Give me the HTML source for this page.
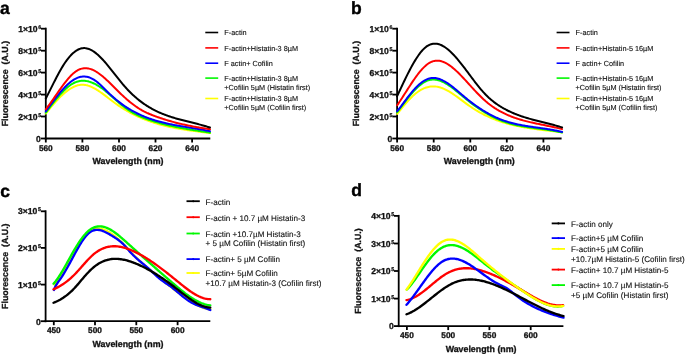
<!DOCTYPE html>
<html><head><meta charset="utf-8"><style>
html,body{margin:0;padding:0;background:#fff;}
body{width:685px;height:355px;overflow:hidden;}
svg{display:block;will-change:transform;}
#w{width:685px;height:355px;background:#fff;}
text{font-family:"Liberation Sans",sans-serif;text-rendering:geometricPrecision;}
.tk{font-size:8.6px;font-weight:bold;fill:#111;stroke:#111;stroke-width:0.3px;}
.sup{font-size:5.3px;stroke-width:0.25px;}
.xt{font-size:8.3px;font-weight:bold;fill:#111;stroke:#111;stroke-width:0.3px;text-anchor:middle;}
.ti{font-size:8.85px;font-weight:bold;fill:#111;stroke:#111;stroke-width:0.3px;text-anchor:middle;}
.pl{font-size:17.5px;font-weight:bold;fill:#000;stroke:#000;stroke-width:0.4px;}
.lg{font-size:7.3px;fill:#111;stroke:#111;stroke-width:0.12px;}
.lg2{font-size:8.1px;fill:#111;stroke:#111;stroke-width:0.12px;}
.ax{stroke:#000;stroke-width:1.8;fill:none;}
</style></head><body>
<div id="w"><svg width="685" height="355" viewBox="0 0 685 355">

<path d="M45.8,27.7 V139.5" class="ax"/>
<path d="M44.8,138.5 H210.3" class="ax"/>
<path d="M41.0,138.5 H45.8" class="ax"/>
<path d="M41.0,116.5 H45.8" class="ax"/>
<path d="M41.0,94.6 H45.8" class="ax"/>
<path d="M41.0,72.6 H45.8" class="ax"/>
<path d="M41.0,50.7 H45.8" class="ax"/>
<path d="M41.0,28.7 H45.8" class="ax"/>
<path d="M45.8,138.5 V142.5" class="ax"/>
<path d="M82.4,138.5 V142.5" class="ax"/>
<path d="M119.0,138.5 V142.5" class="ax"/>
<path d="M155.5,138.5 V142.5" class="ax"/>
<path d="M192.1,138.5 V142.5" class="ax"/>
<text x="40.9" y="141.8" text-anchor="end" class="tk">0</text>
<text x="37.6" y="119.6" class="tk" text-anchor="end">2×10</text><text x="38.3" y="116.6" class="tk sup">5</text>
<text x="37.6" y="97.7" class="tk" text-anchor="end">4×10</text><text x="38.3" y="94.7" class="tk sup">5</text>
<text x="37.6" y="75.7" class="tk" text-anchor="end">6×10</text><text x="38.3" y="72.7" class="tk sup">5</text>
<text x="37.6" y="53.8" class="tk" text-anchor="end">8×10</text><text x="38.3" y="50.8" class="tk sup">5</text>
<text x="37.6" y="31.8" class="tk" text-anchor="end">1×10</text><text x="38.3" y="28.8" class="tk sup">6</text>
<text x="45.8" y="151" class="xt">560</text>
<text x="82.4" y="151" class="xt">580</text>
<text x="119.0" y="151" class="xt">600</text>
<text x="155.5" y="151" class="xt">620</text>
<text x="192.1" y="151" class="xt">640</text>
<text x="128.0" y="163.5" class="ti">Wavelength (nm)</text>
<text transform="translate(7.9,83.6) rotate(-90)" class="ti">Fluorescence&#160; (A.U.)</text>
<text x="0.0" y="13.7" class="pl">a</text>
<path d="M45.80,113.58L46.80,112.32L47.80,111.08L48.80,109.84L49.80,108.62L50.81,107.41L51.81,106.22L52.81,105.04L53.81,103.89L54.81,102.75L55.81,101.63L56.81,100.53L57.81,99.46L58.82,98.42L59.82,97.40L60.82,96.41L61.82,95.45L62.82,94.52L63.82,93.62L64.82,92.76L65.82,91.93L66.83,91.14L67.83,90.39L68.83,89.68L69.83,89.01L70.83,88.39L71.83,87.81L72.83,87.27L73.83,86.78L74.84,86.34L75.84,85.96L76.84,85.62L77.84,85.33L78.84,85.11L79.84,84.93L80.84,84.82L81.84,84.76L82.85,84.77L83.85,84.83L84.85,84.94L85.85,85.11L86.85,85.33L87.85,85.59L88.85,85.91L89.85,86.26L90.85,86.66L91.86,87.10L92.86,87.58L93.86,88.09L94.86,88.63L95.86,89.20L96.86,89.81L97.86,90.43L98.86,91.09L99.87,91.76L100.87,92.46L101.87,93.17L102.87,93.89L103.87,94.63L104.87,95.38L105.87,96.14L106.87,96.91L107.88,97.68L108.88,98.45L109.88,99.22L110.88,99.99L111.88,100.75L112.88,101.51L113.88,102.26L114.88,103.00L115.89,103.72L116.89,104.43L117.89,105.13L118.89,105.81L119.89,106.49L120.89,107.15L121.89,107.79L122.89,108.43L123.90,109.05L124.90,109.66L125.90,110.25L126.90,110.84L127.90,111.41L128.90,111.98L129.90,112.53L130.90,113.07L131.90,113.59L132.91,114.11L133.91,114.62L134.91,115.12L135.91,115.60L136.91,116.08L137.91,116.54L138.91,117.00L139.91,117.44L140.92,117.88L141.92,118.30L142.92,118.72L143.92,119.13L144.92,119.53L145.92,119.92L146.92,120.30L147.92,120.67L148.93,121.03L149.93,121.39L150.93,121.73L151.93,122.07L152.93,122.40L153.93,122.72L154.93,123.04L155.93,123.35L156.94,123.65L157.94,123.94L158.94,124.23L159.94,124.51L160.94,124.78L161.94,125.04L162.94,125.30L163.94,125.56L164.95,125.80L165.95,126.05L166.95,126.28L167.95,126.51L168.95,126.73L169.95,126.95L170.95,127.17L171.95,127.38L172.95,127.58L173.96,127.78L174.96,127.97L175.96,128.16L176.96,128.35L177.96,128.53L178.96,128.71L179.96,128.88L180.96,129.05L181.97,129.22L182.97,129.38L183.97,129.54L184.97,129.69L185.97,129.85L186.97,130.00L187.97,130.15L188.97,130.29L189.98,130.44L190.98,130.58L191.98,130.71L192.98,130.85L193.98,130.99L194.98,131.12L195.98,131.25L196.98,131.38L197.99,131.51L198.99,131.64L199.99,131.77L200.99,131.90L201.99,132.02L202.99,132.15L203.99,132.28L204.99,132.40L206.00,132.53L207.00,132.65L208.00,132.78L209.00,132.91L210.00,133.04" stroke="#ffff00" stroke-width="2.0" fill="none" stroke-linejoin="round" stroke-linecap="round"/>
<path d="M45.80,112.62L46.80,111.29L47.80,109.96L48.80,108.64L49.80,107.32L50.81,106.01L51.81,104.71L52.81,103.42L53.81,102.15L54.81,100.89L55.81,99.65L56.81,98.44L57.81,97.24L58.82,96.07L59.82,94.93L60.82,93.82L61.82,92.73L62.82,91.69L63.82,90.67L64.82,89.70L65.82,88.77L66.83,87.87L67.83,87.03L68.83,86.22L69.83,85.47L70.83,84.77L71.83,84.12L72.83,83.53L73.83,82.99L74.84,82.51L75.84,82.09L76.84,81.73L77.84,81.43L78.84,81.19L79.84,81.00L80.84,80.87L81.84,80.79L82.85,80.76L83.85,80.78L84.85,80.85L85.85,80.96L86.85,81.13L87.85,81.34L88.85,81.59L89.85,81.89L90.85,82.22L91.86,82.60L92.86,83.02L93.86,83.47L94.86,83.96L95.86,84.49L96.86,85.05L97.86,85.64L98.86,86.26L99.87,86.91L100.87,87.59L101.87,88.30L102.87,89.04L103.87,89.80L104.87,90.58L105.87,91.39L106.87,92.21L107.88,93.05L108.88,93.90L109.88,94.77L110.88,95.65L111.88,96.53L112.88,97.42L113.88,98.31L114.88,99.20L115.89,100.09L116.89,100.97L117.89,101.85L118.89,102.71L119.89,103.57L120.89,104.41L121.89,105.23L122.89,106.04L123.90,106.82L124.90,107.58L125.90,108.31L126.90,109.02L127.90,109.71L128.90,110.37L129.90,111.00L130.90,111.62L131.90,112.21L132.91,112.79L133.91,113.34L134.91,113.88L135.91,114.40L136.91,114.90L137.91,115.38L138.91,115.85L139.91,116.30L140.92,116.74L141.92,117.16L142.92,117.57L143.92,117.97L144.92,118.36L145.92,118.73L146.92,119.10L147.92,119.46L148.93,119.81L149.93,120.15L150.93,120.48L151.93,120.81L152.93,121.13L153.93,121.44L154.93,121.75L155.93,122.05L156.94,122.34L157.94,122.63L158.94,122.91L159.94,123.19L160.94,123.46L161.94,123.73L162.94,123.99L163.94,124.24L164.95,124.49L165.95,124.74L166.95,124.98L167.95,125.22L168.95,125.45L169.95,125.67L170.95,125.90L171.95,126.12L172.95,126.33L173.96,126.54L174.96,126.75L175.96,126.95L176.96,127.15L177.96,127.35L178.96,127.54L179.96,127.73L180.96,127.92L181.97,128.10L182.97,128.28L183.97,128.46L184.97,128.64L185.97,128.81L186.97,128.99L187.97,129.16L188.97,129.33L189.98,129.49L190.98,129.66L191.98,129.82L192.98,129.98L193.98,130.15L194.98,130.31L195.98,130.47L196.98,130.62L197.99,130.78L198.99,130.94L199.99,131.10L200.99,131.25L201.99,131.41L202.99,131.57L203.99,131.72L204.99,131.88L206.00,132.04L207.00,132.20L208.00,132.36L209.00,132.52L210.00,132.68" stroke="#00f800" stroke-width="2.0" fill="none" stroke-linejoin="round" stroke-linecap="round"/>
<path d="M45.80,111.42L46.80,110.03L47.80,108.64L48.80,107.26L49.80,105.88L50.81,104.51L51.81,103.15L52.81,101.80L53.81,100.46L54.81,99.15L55.81,97.85L56.81,96.56L57.81,95.30L58.82,94.07L59.82,92.86L60.82,91.68L61.82,90.52L62.82,89.40L63.82,88.31L64.82,87.26L65.82,86.24L66.83,85.27L67.83,84.33L68.83,83.44L69.83,82.60L70.83,81.80L71.83,81.05L72.83,80.35L73.83,79.70L74.84,79.11L75.84,78.57L76.84,78.10L77.84,77.68L78.84,77.33L79.84,77.04L80.84,76.82L81.84,76.66L82.85,76.56L83.85,76.53L84.85,76.56L85.85,76.65L86.85,76.81L87.85,77.03L88.85,77.31L89.85,77.66L90.85,78.07L91.86,78.54L92.86,79.07L93.86,79.66L94.86,80.32L95.86,81.04L96.86,81.80L97.86,82.62L98.86,83.48L99.87,84.37L100.87,85.30L101.87,86.25L102.87,87.23L103.87,88.21L104.87,89.21L105.87,90.21L106.87,91.20L107.88,92.19L108.88,93.17L109.88,94.12L110.88,95.06L111.88,95.98L112.88,96.87L113.88,97.75L114.88,98.61L115.89,99.45L116.89,100.28L117.89,101.08L118.89,101.87L119.89,102.63L120.89,103.39L121.89,104.12L122.89,104.84L123.90,105.54L124.90,106.22L125.90,106.89L126.90,107.54L127.90,108.18L128.90,108.80L129.90,109.40L130.90,109.99L131.90,110.57L132.91,111.13L133.91,111.68L134.91,112.21L135.91,112.73L136.91,113.24L137.91,113.73L138.91,114.21L139.91,114.68L140.92,115.14L141.92,115.58L142.92,116.01L143.92,116.43L144.92,116.84L145.92,117.24L146.92,117.63L147.92,118.01L148.93,118.37L149.93,118.73L150.93,119.07L151.93,119.41L152.93,119.74L153.93,120.06L154.93,120.37L155.93,120.67L156.94,120.96L157.94,121.25L158.94,121.52L159.94,121.79L160.94,122.06L161.94,122.31L162.94,122.56L163.94,122.80L164.95,123.04L165.95,123.27L166.95,123.49L167.95,123.71L168.95,123.92L169.95,124.13L170.95,124.34L171.95,124.54L172.95,124.73L173.96,124.92L174.96,125.11L175.96,125.29L176.96,125.48L177.96,125.65L178.96,125.83L179.96,126.00L180.96,126.17L181.97,126.34L182.97,126.51L183.97,126.67L184.97,126.84L185.97,127.00L186.97,127.16L187.97,127.33L188.97,127.49L189.98,127.65L190.98,127.82L191.98,127.98L192.98,128.14L193.98,128.31L194.98,128.48L195.98,128.64L196.98,128.81L197.99,128.99L198.99,129.16L199.99,129.34L200.99,129.52L201.99,129.70L202.99,129.89L203.99,130.08L204.99,130.28L206.00,130.48L207.00,130.68L208.00,130.89L209.00,131.10L210.00,131.32" stroke="#0000ff" stroke-width="2.0" fill="none" stroke-linejoin="round" stroke-linecap="round"/>
<path d="M45.80,109.28L46.80,108.00L47.80,106.69L48.80,105.34L49.80,103.97L50.81,102.58L51.81,101.17L52.81,99.75L53.81,98.31L54.81,96.87L55.81,95.42L56.81,93.97L57.81,92.53L58.82,91.09L59.82,89.67L60.82,88.26L61.82,86.87L62.82,85.50L63.82,84.16L64.82,82.84L65.82,81.56L66.83,80.32L67.83,79.12L68.83,77.96L69.83,76.86L70.83,75.80L71.83,74.80L72.83,73.86L73.83,72.98L74.84,72.17L75.84,71.43L76.84,70.77L77.84,70.18L78.84,69.67L79.84,69.24L80.84,68.89L81.84,68.61L82.85,68.41L83.85,68.27L84.85,68.21L85.85,68.21L86.85,68.28L87.85,68.41L88.85,68.60L89.85,68.85L90.85,69.16L91.86,69.52L92.86,69.94L93.86,70.42L94.86,70.94L95.86,71.50L96.86,72.11L97.86,72.77L98.86,73.46L99.87,74.19L100.87,74.96L101.87,75.75L102.87,76.58L103.87,77.44L104.87,78.32L105.87,79.22L106.87,80.14L107.88,81.09L108.88,82.04L109.88,83.02L110.88,84.00L111.88,84.99L112.88,85.99L113.88,86.99L114.88,87.99L115.89,88.99L116.89,89.99L117.89,90.98L118.89,91.97L119.89,92.95L120.89,93.91L121.89,94.86L122.89,95.80L123.90,96.73L124.90,97.63L125.90,98.53L126.90,99.41L127.90,100.27L128.90,101.11L129.90,101.94L130.90,102.75L131.90,103.54L132.91,104.31L133.91,105.06L134.91,105.79L135.91,106.50L136.91,107.19L137.91,107.85L138.91,108.49L139.91,109.11L140.92,109.70L141.92,110.27L142.92,110.82L143.92,111.35L144.92,111.85L145.92,112.34L146.92,112.82L147.92,113.27L148.93,113.71L149.93,114.14L150.93,114.55L151.93,114.96L152.93,115.35L153.93,115.73L154.93,116.11L155.93,116.48L156.94,116.85L157.94,117.20L158.94,117.55L159.94,117.90L160.94,118.24L161.94,118.57L162.94,118.90L163.94,119.22L164.95,119.54L165.95,119.85L166.95,120.16L167.95,120.46L168.95,120.75L169.95,121.04L170.95,121.32L171.95,121.60L172.95,121.88L173.96,122.14L174.96,122.41L175.96,122.67L176.96,122.92L177.96,123.17L178.96,123.42L179.96,123.66L180.96,123.90L181.97,124.13L182.97,124.36L183.97,124.58L184.97,124.80L185.97,125.02L186.97,125.23L187.97,125.44L188.97,125.64L189.98,125.84L190.98,126.04L191.98,126.24L192.98,126.43L193.98,126.61L194.98,126.80L195.98,126.98L196.98,127.16L197.99,127.33L198.99,127.50L199.99,127.67L200.99,127.84L201.99,128.00L202.99,128.16L203.99,128.32L204.99,128.48L206.00,128.63L207.00,128.78L208.00,128.93L209.00,129.08L210.00,129.23" stroke="#ff0000" stroke-width="2.0" fill="none" stroke-linejoin="round" stroke-linecap="round"/>
<path d="M45.80,98.56L46.80,96.60L47.80,94.62L48.80,92.63L49.80,90.63L50.81,88.63L51.81,86.63L52.81,84.63L53.81,82.65L54.81,80.68L55.81,78.74L56.81,76.82L57.81,74.93L58.82,73.08L59.82,71.27L60.82,69.51L61.82,67.80L62.82,66.14L63.82,64.54L64.82,63.01L65.82,61.55L66.83,60.15L67.83,58.83L68.83,57.58L69.83,56.41L70.83,55.31L71.83,54.28L72.83,53.33L73.83,52.46L74.84,51.66L75.84,50.94L76.84,50.30L77.84,49.74L78.84,49.26L79.84,48.87L80.84,48.55L81.84,48.32L82.85,48.17L83.85,48.10L84.85,48.12L85.85,48.23L86.85,48.41L87.85,48.66L88.85,48.99L89.85,49.39L90.85,49.86L91.86,50.40L92.86,50.99L93.86,51.65L94.86,52.36L95.86,53.13L96.86,53.95L97.86,54.81L98.86,55.73L99.87,56.68L100.87,57.68L101.87,58.72L102.87,59.79L103.87,60.89L104.87,62.02L105.87,63.18L106.87,64.36L107.88,65.57L108.88,66.79L109.88,68.03L110.88,69.28L111.88,70.55L112.88,71.82L113.88,73.09L114.88,74.37L115.89,75.65L116.89,76.92L117.89,78.19L118.89,79.45L119.89,80.70L120.89,81.93L121.89,83.15L122.89,84.34L123.90,85.52L124.90,86.67L125.90,87.79L126.90,88.89L127.90,89.96L128.90,91.00L129.90,92.02L130.90,93.01L131.90,93.98L132.91,94.92L133.91,95.84L134.91,96.74L135.91,97.61L136.91,98.46L137.91,99.29L138.91,100.10L139.91,100.88L140.92,101.65L141.92,102.39L142.92,103.12L143.92,103.82L144.92,104.50L145.92,105.17L146.92,105.82L147.92,106.45L148.93,107.06L149.93,107.65L150.93,108.23L151.93,108.79L152.93,109.34L153.93,109.87L154.93,110.38L155.93,110.88L156.94,111.37L157.94,111.84L158.94,112.30L159.94,112.74L160.94,113.17L161.94,113.59L162.94,114.00L163.94,114.40L164.95,114.78L165.95,115.16L166.95,115.52L167.95,115.88L168.95,116.23L169.95,116.56L170.95,116.89L171.95,117.21L172.95,117.53L173.96,117.83L174.96,118.13L175.96,118.42L176.96,118.71L177.96,118.99L178.96,119.27L179.96,119.54L180.96,119.81L181.97,120.07L182.97,120.33L183.97,120.59L184.97,120.84L185.97,121.09L186.97,121.34L187.97,121.59L188.97,121.84L189.98,122.09L190.98,122.33L191.98,122.58L192.98,122.83L193.98,123.08L194.98,123.33L195.98,123.58L196.98,123.84L197.99,124.09L198.99,124.35L199.99,124.62L200.99,124.89L201.99,125.16L202.99,125.44L203.99,125.72L204.99,126.01L206.00,126.31L207.00,126.61L208.00,126.92L209.00,127.23L210.00,127.56" stroke="#000" stroke-width="2.0" fill="none" stroke-linejoin="round" stroke-linecap="round"/>
<path d="M205.3,32.5 H218.2" stroke="#000" stroke-width="1.6"/>
<text x="224.3" y="35.3" class="lg">F-actin</text>
<path d="M205.3,47.9 H218.2" stroke="#ff0000" stroke-width="1.6"/>
<text x="224.3" y="50.7" class="lg">F-actin+Histatin-3 8µM</text>
<path d="M205.3,63.2 H218.2" stroke="#0000ff" stroke-width="1.6"/>
<text x="224.3" y="66.0" class="lg">F actin+ Cofilin</text>
<path d="M205.3,78.1 H218.2" stroke="#00f800" stroke-width="1.6"/>
<text x="224.3" y="80.9" class="lg">F-actin+Histatin-3 8µM</text>
<text x="224.3" y="90.0" class="lg">+Cofilin 5µM (Histatin first)</text>
<path d="M205.3,98.5 H218.2" stroke="#ffff00" stroke-width="1.6"/>
<text x="224.3" y="101.3" class="lg">F-actin+Histatin-3 8µM</text>
<text x="224.3" y="110.4" class="lg">+Cofilin 5µM (Cofilin first)</text>
<path d="M397.1,27.7 V139.5" class="ax"/>
<path d="M396.1,138.5 H561.6" class="ax"/>
<path d="M392.3,138.5 H397.1" class="ax"/>
<path d="M392.3,116.5 H397.1" class="ax"/>
<path d="M392.3,94.6 H397.1" class="ax"/>
<path d="M392.3,72.6 H397.1" class="ax"/>
<path d="M392.3,50.7 H397.1" class="ax"/>
<path d="M392.3,28.7 H397.1" class="ax"/>
<path d="M397.1,138.5 V142.5" class="ax"/>
<path d="M433.7,138.5 V142.5" class="ax"/>
<path d="M470.3,138.5 V142.5" class="ax"/>
<path d="M506.8,138.5 V142.5" class="ax"/>
<path d="M543.4,138.5 V142.5" class="ax"/>
<text x="392.2" y="141.8" text-anchor="end" class="tk">0</text>
<text x="388.9" y="119.6" class="tk" text-anchor="end">2×10</text><text x="389.6" y="116.6" class="tk sup">5</text>
<text x="388.9" y="97.7" class="tk" text-anchor="end">4×10</text><text x="389.6" y="94.7" class="tk sup">5</text>
<text x="388.9" y="75.7" class="tk" text-anchor="end">6×10</text><text x="389.6" y="72.7" class="tk sup">5</text>
<text x="388.9" y="53.8" class="tk" text-anchor="end">8×10</text><text x="389.6" y="50.8" class="tk sup">5</text>
<text x="388.9" y="31.8" class="tk" text-anchor="end">1×10</text><text x="389.6" y="28.8" class="tk sup">6</text>
<text x="397.1" y="151" class="xt">560</text>
<text x="433.7" y="151" class="xt">580</text>
<text x="470.3" y="151" class="xt">600</text>
<text x="506.8" y="151" class="xt">620</text>
<text x="543.4" y="151" class="xt">640</text>
<text x="479.3" y="163.5" class="ti">Wavelength (nm)</text>
<text transform="translate(359.2,83.6) rotate(-90)" class="ti">Fluorescence&#160; (A.U.)</text>
<text x="351.0" y="13.7" class="pl">b</text>
<path d="M397.20,114.00L398.21,112.69L399.21,111.39L400.22,110.11L401.22,108.84L402.23,107.60L403.23,106.37L404.24,105.17L405.24,103.99L406.25,102.83L407.25,101.71L408.26,100.61L409.27,99.54L410.27,98.50L411.28,97.50L412.28,96.53L413.29,95.60L414.29,94.70L415.30,93.85L416.30,93.04L417.31,92.27L418.32,91.54L419.32,90.86L420.33,90.23L421.33,89.65L422.34,89.11L423.34,88.63L424.35,88.19L425.35,87.81L426.36,87.47L427.36,87.18L428.37,86.93L429.38,86.73L430.38,86.58L431.39,86.47L432.39,86.41L433.40,86.40L434.40,86.43L435.41,86.50L436.41,86.62L437.42,86.78L438.43,86.98L439.43,87.22L440.44,87.51L441.44,87.84L442.45,88.21L443.45,88.61L444.46,89.05L445.46,89.53L446.47,90.03L447.47,90.57L448.48,91.13L449.49,91.72L450.49,92.34L451.50,92.97L452.50,93.63L453.51,94.31L454.51,95.00L455.52,95.70L456.52,96.42L457.53,97.15L458.53,97.89L459.54,98.64L460.55,99.39L461.55,100.14L462.56,100.89L463.56,101.65L464.57,102.40L465.57,103.14L466.58,103.88L467.58,104.61L468.59,105.33L469.60,106.04L470.60,106.73L471.61,107.41L472.61,108.08L473.62,108.73L474.62,109.36L475.63,109.98L476.63,110.59L477.64,111.19L478.64,111.77L479.65,112.34L480.66,112.90L481.66,113.44L482.67,113.97L483.67,114.49L484.68,114.99L485.68,115.49L486.69,115.97L487.69,116.44L488.70,116.90L489.70,117.35L490.71,117.79L491.72,118.22L492.72,118.63L493.73,119.04L494.73,119.43L495.74,119.82L496.74,120.19L497.75,120.56L498.75,120.91L499.76,121.26L500.77,121.60L501.77,121.93L502.78,122.25L503.78,122.56L504.79,122.86L505.79,123.16L506.80,123.44L507.80,123.72L508.81,123.99L509.81,124.26L510.82,124.51L511.83,124.76L512.83,125.01L513.84,125.24L514.84,125.47L515.85,125.70L516.85,125.91L517.86,126.12L518.86,126.33L519.87,126.53L520.88,126.72L521.88,126.91L522.89,127.10L523.89,127.28L524.90,127.45L525.90,127.62L526.91,127.79L527.91,127.95L528.92,128.11L529.92,128.26L530.93,128.41L531.94,128.56L532.94,128.71L533.95,128.85L534.95,128.99L535.96,129.12L536.96,129.26L537.97,129.39L538.97,129.52L539.98,129.65L540.98,129.77L541.99,129.90L543.00,130.02L544.00,130.14L545.01,130.27L546.01,130.39L547.02,130.51L548.02,130.63L549.03,130.75L550.03,130.87L551.04,130.99L552.05,131.11L553.05,131.23L554.06,131.35L555.06,131.48L556.07,131.60L557.07,131.73L558.08,131.86L559.08,131.99L560.09,132.12L561.09,132.25L562.10,132.39" stroke="#ffff00" stroke-width="2.0" fill="none" stroke-linejoin="round" stroke-linecap="round"/>
<path d="M397.20,112.22L398.21,110.90L399.21,109.57L400.22,108.24L401.22,106.89L402.23,105.55L403.23,104.21L404.24,102.88L405.24,101.55L406.25,100.23L407.25,98.93L408.26,97.65L409.27,96.39L410.27,95.15L411.28,93.95L412.28,92.77L413.29,91.63L414.29,90.53L415.30,89.46L416.30,88.45L417.31,87.48L418.32,86.56L419.32,85.68L420.33,84.86L421.33,84.09L422.34,83.38L423.34,82.72L424.35,82.12L425.35,81.58L426.36,81.10L427.36,80.68L428.37,80.32L429.38,80.03L430.38,79.80L431.39,79.64L432.39,79.55L433.40,79.52L434.40,79.55L435.41,79.64L436.41,79.79L437.42,79.99L438.43,80.24L439.43,80.54L440.44,80.90L441.44,81.29L442.45,81.73L443.45,82.21L444.46,82.73L445.46,83.29L446.47,83.88L447.47,84.50L448.48,85.16L449.49,85.84L450.49,86.54L451.50,87.27L452.50,88.02L453.51,88.79L454.51,89.58L455.52,90.37L456.52,91.19L457.53,92.01L458.53,92.84L459.54,93.67L460.55,94.51L461.55,95.34L462.56,96.18L463.56,97.01L464.57,97.84L465.57,98.66L466.58,99.47L467.58,100.27L468.59,101.06L469.60,101.84L470.60,102.61L471.61,103.37L472.61,104.12L473.62,104.87L474.62,105.60L475.63,106.32L476.63,107.03L477.64,107.73L478.64,108.42L479.65,109.09L480.66,109.76L481.66,110.41L482.67,111.05L483.67,111.68L484.68,112.30L485.68,112.91L486.69,113.50L487.69,114.08L488.70,114.65L489.70,115.21L490.71,115.75L491.72,116.28L492.72,116.80L493.73,117.30L494.73,117.79L495.74,118.26L496.74,118.72L497.75,119.17L498.75,119.60L499.76,120.02L500.77,120.42L501.77,120.81L502.78,121.19L503.78,121.55L504.79,121.89L505.79,122.23L506.80,122.55L507.80,122.86L508.81,123.16L509.81,123.45L510.82,123.73L511.83,124.00L512.83,124.25L513.84,124.50L514.84,124.74L515.85,124.97L516.85,125.19L517.86,125.40L518.86,125.61L519.87,125.81L520.88,126.00L521.88,126.18L522.89,126.36L523.89,126.53L524.90,126.70L525.90,126.86L526.91,127.02L527.91,127.17L528.92,127.32L529.92,127.47L530.93,127.61L531.94,127.75L532.94,127.88L533.95,128.02L534.95,128.15L535.96,128.29L536.96,128.42L537.97,128.55L538.97,128.68L539.98,128.81L540.98,128.95L541.99,129.08L543.00,129.22L544.00,129.35L545.01,129.49L546.01,129.63L547.02,129.78L548.02,129.93L549.03,130.08L550.03,130.24L551.04,130.40L552.05,130.56L553.05,130.74L554.06,130.91L555.06,131.10L556.07,131.29L557.07,131.48L558.08,131.69L559.08,131.90L560.09,132.12L561.09,132.35L562.10,132.58" stroke="#00f800" stroke-width="2.0" fill="none" stroke-linejoin="round" stroke-linecap="round"/>
<path d="M397.20,111.24L398.21,109.95L399.21,108.64L400.22,107.32L401.22,105.98L402.23,104.64L403.23,103.30L404.24,101.95L405.24,100.61L406.25,99.28L407.25,97.95L408.26,96.65L409.27,95.36L410.27,94.09L411.28,92.86L412.28,91.65L413.29,90.47L414.29,89.34L415.30,88.24L416.30,87.19L417.31,86.19L418.32,85.23L419.32,84.33L420.33,83.48L421.33,82.68L422.34,81.94L423.34,81.26L424.35,80.64L425.35,80.07L426.36,79.57L427.36,79.14L428.37,78.77L429.38,78.46L430.38,78.23L431.39,78.07L432.39,77.97L433.40,77.94L434.40,77.98L435.41,78.08L436.41,78.23L437.42,78.45L438.43,78.71L439.43,79.03L440.44,79.40L441.44,79.82L442.45,80.28L443.45,80.79L444.46,81.33L445.46,81.92L446.47,82.53L447.47,83.18L448.48,83.86L449.49,84.57L450.49,85.31L451.50,86.07L452.50,86.85L453.51,87.65L454.51,88.46L455.52,89.29L456.52,90.13L457.53,90.98L458.53,91.83L459.54,92.69L460.55,93.55L461.55,94.41L462.56,95.27L463.56,96.12L464.57,96.97L465.57,97.80L466.58,98.63L467.58,99.44L468.59,100.24L469.60,101.03L470.60,101.81L471.61,102.58L472.61,103.33L473.62,104.08L474.62,104.81L475.63,105.53L476.63,106.24L477.64,106.94L478.64,107.62L479.65,108.29L480.66,108.95L481.66,109.60L482.67,110.24L483.67,110.86L484.68,111.47L485.68,112.07L486.69,112.66L487.69,113.23L488.70,113.79L489.70,114.33L490.71,114.87L491.72,115.39L492.72,115.89L493.73,116.39L494.73,116.87L495.74,117.33L496.74,117.79L497.75,118.22L498.75,118.65L499.76,119.06L500.77,119.46L501.77,119.84L502.78,120.21L503.78,120.57L504.79,120.91L505.79,121.24L506.80,121.57L507.80,121.88L508.81,122.17L509.81,122.46L510.82,122.74L511.83,123.01L512.83,123.27L513.84,123.51L514.84,123.76L515.85,123.99L516.85,124.21L517.86,124.43L518.86,124.64L519.87,124.84L520.88,125.03L521.88,125.22L522.89,125.41L523.89,125.58L524.90,125.76L525.90,125.92L526.91,126.09L527.91,126.25L528.92,126.40L529.92,126.56L530.93,126.71L531.94,126.85L532.94,127.00L533.95,127.14L534.95,127.28L535.96,127.43L536.96,127.57L537.97,127.71L538.97,127.85L539.98,127.99L540.98,128.13L541.99,128.27L543.00,128.42L544.00,128.56L545.01,128.71L546.01,128.86L547.02,129.01L548.02,129.17L549.03,129.33L550.03,129.50L551.04,129.67L552.05,129.84L553.05,130.02L554.06,130.21L555.06,130.40L556.07,130.60L557.07,130.80L558.08,131.02L559.08,131.24L560.09,131.46L561.09,131.70L562.10,131.94" stroke="#0000ff" stroke-width="2.0" fill="none" stroke-linejoin="round" stroke-linecap="round"/>
<path d="M397.20,105.30L398.21,103.82L399.21,102.32L400.22,100.80L401.22,99.26L402.23,97.71L403.23,96.14L404.24,94.57L405.24,93.00L406.25,91.42L407.25,89.85L408.26,88.28L409.27,86.72L410.27,85.18L411.28,83.65L412.28,82.14L413.29,80.66L414.29,79.20L415.30,77.77L416.30,76.38L417.31,75.02L418.32,73.71L419.32,72.44L420.33,71.21L421.33,70.04L422.34,68.92L423.34,67.86L424.35,66.86L425.35,65.92L426.36,65.05L427.36,64.25L428.37,63.53L429.38,62.89L430.38,62.33L431.39,61.85L432.39,61.45L433.40,61.14L434.40,60.90L435.41,60.75L436.41,60.66L437.42,60.65L438.43,60.71L439.43,60.84L440.44,61.03L441.44,61.28L442.45,61.60L443.45,61.97L444.46,62.40L445.46,62.89L446.47,63.42L447.47,64.01L448.48,64.64L449.49,65.32L450.49,66.04L451.50,66.80L452.50,67.60L453.51,68.43L454.51,69.30L455.52,70.20L456.52,71.13L457.53,72.09L458.53,73.07L459.54,74.07L460.55,75.10L461.55,76.14L462.56,77.19L463.56,78.26L464.57,79.34L465.57,80.43L466.58,81.53L467.58,82.63L468.59,83.73L469.60,84.84L470.60,85.94L471.61,87.05L472.61,88.15L473.62,89.24L474.62,90.32L475.63,91.40L476.63,92.47L477.64,93.52L478.64,94.55L479.65,95.57L480.66,96.58L481.66,97.56L482.67,98.52L483.67,99.45L484.68,100.36L485.68,101.25L486.69,102.10L487.69,102.93L488.70,103.74L489.70,104.52L490.71,105.27L491.72,106.01L492.72,106.71L493.73,107.40L494.73,108.07L495.74,108.71L496.74,109.34L497.75,109.94L498.75,110.53L499.76,111.10L500.77,111.65L501.77,112.18L502.78,112.70L503.78,113.20L504.79,113.69L505.79,114.16L506.80,114.62L507.80,115.07L508.81,115.50L509.81,115.91L510.82,116.32L511.83,116.71L512.83,117.09L513.84,117.46L514.84,117.82L515.85,118.17L516.85,118.51L517.86,118.84L518.86,119.15L519.87,119.46L520.88,119.76L521.88,120.05L522.89,120.34L523.89,120.61L524.90,120.88L525.90,121.14L526.91,121.40L527.91,121.65L528.92,121.89L529.92,122.13L530.93,122.36L531.94,122.59L532.94,122.81L533.95,123.03L534.95,123.25L535.96,123.46L536.96,123.67L537.97,123.88L538.97,124.08L539.98,124.29L540.98,124.49L541.99,124.69L543.00,124.89L544.00,125.09L545.01,125.29L546.01,125.50L547.02,125.70L548.02,125.90L549.03,126.11L550.03,126.32L551.04,126.53L552.05,126.74L553.05,126.96L554.06,127.18L555.06,127.40L556.07,127.63L557.07,127.87L558.08,128.11L559.08,128.35L560.09,128.60L561.09,128.86L562.10,129.12" stroke="#ff0000" stroke-width="2.0" fill="none" stroke-linejoin="round" stroke-linecap="round"/>
<path d="M397.00,96.37L398.00,94.24L399.00,92.11L400.00,89.98L401.00,87.86L402.00,85.74L403.00,83.63L404.00,81.54L405.00,79.47L406.01,77.42L407.01,75.40L408.01,73.41L409.01,71.45L410.01,69.53L411.01,67.65L412.01,65.82L413.01,64.03L414.01,62.30L415.01,60.62L416.01,59.00L417.01,57.45L418.01,55.96L419.01,54.54L420.01,53.20L421.01,51.93L422.02,50.75L423.02,49.65L424.02,48.64L425.02,47.72L426.02,46.90L427.02,46.18L428.02,45.55L429.02,45.01L430.02,44.57L431.02,44.21L432.02,43.94L433.02,43.76L434.02,43.65L435.02,43.63L436.02,43.68L437.02,43.81L438.02,44.01L439.03,44.28L440.03,44.62L441.03,45.03L442.03,45.50L443.03,46.03L444.03,46.62L445.03,47.26L446.03,47.97L447.03,48.72L448.03,49.53L449.03,50.38L450.03,51.28L451.03,52.22L452.03,53.20L453.03,54.23L454.03,55.28L455.04,56.38L456.04,57.51L457.04,58.66L458.04,59.85L459.04,61.06L460.04,62.29L461.04,63.54L462.04,64.82L463.04,66.11L464.04,67.41L465.04,68.72L466.04,70.05L467.04,71.38L468.04,72.72L469.04,74.06L470.04,75.40L471.04,76.74L472.05,78.08L473.05,79.41L474.05,80.73L475.05,82.04L476.05,83.33L477.05,84.61L478.05,85.87L479.05,87.11L480.05,88.33L481.05,89.52L482.05,90.68L483.05,91.82L484.05,92.92L485.05,93.98L486.05,95.02L487.05,96.01L488.06,96.97L489.06,97.91L490.06,98.80L491.06,99.67L492.06,100.51L493.06,101.32L494.06,102.11L495.06,102.86L496.06,103.59L497.06,104.30L498.06,104.98L499.06,105.64L500.06,106.28L501.06,106.90L502.06,107.50L503.06,108.08L504.06,108.65L505.07,109.19L506.07,109.73L507.07,110.24L508.07,110.75L509.07,111.23L510.07,111.71L511.07,112.17L512.07,112.61L513.07,113.04L514.07,113.47L515.07,113.88L516.07,114.27L517.07,114.66L518.07,115.04L519.07,115.40L520.07,115.76L521.08,116.10L522.08,116.44L523.08,116.77L524.08,117.09L525.08,117.41L526.08,117.71L527.08,118.01L528.08,118.30L529.08,118.59L530.08,118.87L531.08,119.15L532.08,119.42L533.08,119.69L534.08,119.95L535.08,120.21L536.08,120.47L537.08,120.72L538.09,120.98L539.09,121.23L540.09,121.48L541.09,121.72L542.09,121.97L543.09,122.22L544.09,122.47L545.09,122.72L546.09,122.97L547.09,123.22L548.09,123.48L549.09,123.73L550.09,123.99L551.09,124.26L552.09,124.52L553.09,124.80L554.10,125.07L555.10,125.35L556.10,125.64L557.10,125.93L558.10,126.23L559.10,126.54L560.10,126.85L561.10,127.17L562.10,127.50" stroke="#000" stroke-width="2.0" fill="none" stroke-linejoin="round" stroke-linecap="round"/>
<path d="M556.6,32.5 H569.5" stroke="#000" stroke-width="1.6"/>
<text x="575.6" y="35.3" class="lg">F-actin</text>
<path d="M556.6,47.9 H569.5" stroke="#ff0000" stroke-width="1.6"/>
<text x="575.6" y="50.7" class="lg">F-actin+Histatin-5 16µM</text>
<path d="M556.6,63.2 H569.5" stroke="#0000ff" stroke-width="1.6"/>
<text x="575.6" y="66.0" class="lg">F actin+ Cofilin</text>
<path d="M556.6,78.1 H569.5" stroke="#00f800" stroke-width="1.6"/>
<text x="575.6" y="80.9" class="lg">F-actin+Histatin-5 16µM</text>
<text x="575.6" y="90.0" class="lg">+Cofilin 5µM (Histatin first)</text>
<path d="M556.6,98.5 H569.5" stroke="#ffff00" stroke-width="1.6"/>
<text x="575.6" y="101.3" class="lg">F-actin+Histatin-5 16µM</text>
<text x="575.6" y="110.4" class="lg">+Cofilin 5µM (Cofilin first)</text>
<path d="M45.6,210.3 V322.2" class="ax"/>
<path d="M44.6,321.2 H210.3" class="ax"/>
<path d="M40.8,321.2 H45.6" class="ax"/>
<path d="M40.8,284.6 H45.6" class="ax"/>
<path d="M40.8,247.9 H45.6" class="ax"/>
<path d="M40.8,211.3 H45.6" class="ax"/>
<path d="M53.8,321.2 V325.2" class="ax"/>
<path d="M95.0,321.2 V325.2" class="ax"/>
<path d="M136.3,321.2 V325.2" class="ax"/>
<path d="M177.6,321.2 V325.2" class="ax"/>
<text x="40.7" y="324.5" text-anchor="end" class="tk">0</text>
<text x="37.4" y="287.7" class="tk" text-anchor="end">1×10</text><text x="38.1" y="284.7" class="tk sup">5</text>
<text x="37.4" y="251.0" class="tk" text-anchor="end">2×10</text><text x="38.1" y="248.0" class="tk sup">5</text>
<text x="37.4" y="214.4" class="tk" text-anchor="end">3×10</text><text x="38.1" y="211.4" class="tk sup">5</text>
<text x="53.8" y="333.3" class="xt">450</text>
<text x="95.0" y="333.3" class="xt">500</text>
<text x="136.3" y="333.3" class="xt">550</text>
<text x="177.6" y="333.3" class="xt">600</text>
<text x="128.0" y="346.7" class="ti">Wavelength (nm)</text>
<text transform="translate(7.9,266.2) rotate(-90)" class="ti">Fluorescence&#160; (A.U.)</text>
<text x="0.2" y="196.9" class="pl">c</text>
<path d="M54.90,285.26L55.90,283.99L56.91,282.66L57.91,281.27L58.91,279.84L59.91,278.36L60.92,276.83L61.92,275.26L62.92,273.65L63.92,272.00L64.93,270.32L65.93,268.61L66.93,266.86L67.93,265.09L68.94,263.30L69.94,261.48L70.94,259.64L71.94,257.79L72.95,255.92L73.95,254.05L74.95,252.16L75.95,250.28L76.96,248.41L77.96,246.58L78.96,244.78L79.96,243.04L80.97,241.37L81.97,239.78L82.97,238.29L83.97,236.90L84.98,235.63L85.98,234.48L86.98,233.46L87.99,232.54L88.99,231.74L89.99,231.04L90.99,230.44L92.00,229.94L93.00,229.53L94.00,229.20L95.00,228.95L96.01,228.77L97.01,228.67L98.01,228.64L99.01,228.68L100.02,228.79L101.02,228.96L102.02,229.18L103.02,229.47L104.03,229.81L105.03,230.20L106.03,230.65L107.03,231.14L108.04,231.67L109.04,232.25L110.04,232.87L111.04,233.52L112.05,234.20L113.05,234.92L114.05,235.67L115.05,236.44L116.06,237.24L117.06,238.07L118.06,238.93L119.07,239.82L120.07,240.74L121.07,241.70L122.07,242.69L123.08,243.72L124.08,244.79L125.08,245.88L126.08,247.00L127.09,248.13L128.09,249.26L129.09,250.37L130.09,251.46L131.10,252.51L132.10,253.54L133.10,254.54L134.10,255.52L135.11,256.48L136.11,257.44L137.11,258.39L138.11,259.33L139.12,260.27L140.12,261.19L141.12,262.11L142.12,263.02L143.13,263.93L144.13,264.83L145.13,265.72L146.13,266.60L147.14,267.48L148.14,268.35L149.14,269.22L150.15,270.08L151.15,270.94L152.15,271.79L153.15,272.63L154.16,273.47L155.16,274.31L156.16,275.14L157.16,275.97L158.17,276.79L159.17,277.61L160.17,278.43L161.17,279.24L162.18,280.05L163.18,280.85L164.18,281.66L165.18,282.46L166.19,283.25L167.19,284.05L168.19,284.84L169.19,285.62L170.20,286.41L171.20,287.19L172.20,287.97L173.20,288.75L174.21,289.53L175.21,290.31L176.21,291.08L177.21,291.85L178.22,292.62L179.22,293.38L180.22,294.14L181.23,294.89L182.23,295.63L183.23,296.36L184.23,297.09L185.24,297.80L186.24,298.50L187.24,299.19L188.24,299.87L189.25,300.53L190.25,301.18L191.25,301.81L192.25,302.42L193.26,303.02L194.26,303.59L195.26,304.15L196.26,304.69L197.27,305.20L198.27,305.69L199.27,306.15L200.27,306.59L201.28,307.01L202.28,307.40L203.28,307.76L204.28,308.09L205.29,308.39L206.29,308.66L207.29,308.90L208.29,309.11L209.30,309.28L210.30,309.42" stroke="#ffff00" stroke-width="2.35" fill="none" stroke-linejoin="round" stroke-linecap="round"/>
<path d="M53.90,289.93L54.90,287.54L55.91,285.53L56.91,283.81L57.91,282.30L58.91,280.91L59.92,279.52L60.92,278.09L61.92,276.58L62.92,275.02L63.93,273.40L64.93,271.73L65.93,270.02L66.93,268.26L67.94,266.47L68.94,264.66L69.94,262.82L70.94,260.96L71.95,259.09L72.95,257.22L73.95,255.35L74.95,253.50L75.96,251.67L76.96,249.86L77.96,248.09L78.96,246.35L79.97,244.67L80.97,243.05L81.97,241.49L82.97,240.00L83.98,238.59L84.98,237.26L85.98,236.03L86.98,234.90L87.99,233.88L88.99,232.97L89.99,232.19L90.99,231.53L92.00,230.98L93.00,230.55L94.00,230.23L95.01,230.00L96.01,229.87L97.01,229.82L98.01,229.86L99.02,229.97L100.02,230.16L101.02,230.41L102.02,230.72L103.03,231.08L104.03,231.49L105.03,231.95L106.03,232.44L107.04,232.96L108.04,233.50L109.04,234.06L110.04,234.64L111.05,235.23L112.05,235.83L113.05,236.44L114.05,237.07L115.06,237.72L116.06,238.40L117.06,239.09L118.06,239.81L119.07,240.56L120.07,241.34L121.07,242.16L122.07,243.04L123.08,243.98L124.08,244.99L125.08,246.08L126.08,247.21L127.09,248.38L128.09,249.56L129.09,250.73L130.09,251.87L131.10,252.97L132.10,254.03L133.10,255.05L134.11,256.03L135.11,256.99L136.11,257.91L137.11,258.81L138.12,259.70L139.12,260.56L140.12,261.41L141.12,262.25L142.13,263.09L143.13,263.92L144.13,264.75L145.13,265.59L146.14,266.43L147.14,267.29L148.14,268.16L149.14,269.05L150.15,269.95L151.15,270.89L152.15,271.83L153.15,272.79L154.16,273.75L155.16,274.71L156.16,275.65L157.16,276.57L158.17,277.47L159.17,278.33L160.17,279.15L161.17,279.93L162.18,280.67L163.18,281.38L164.18,282.07L165.18,282.75L166.19,283.41L167.19,284.08L168.19,284.76L169.19,285.45L170.20,286.16L171.20,286.91L172.20,287.68L173.21,288.47L174.21,289.27L175.21,290.10L176.21,290.93L177.22,291.78L178.22,292.62L179.22,293.47L180.22,294.31L181.23,295.15L182.23,295.98L183.23,296.80L184.23,297.59L185.24,298.37L186.24,299.12L187.24,299.85L188.24,300.54L189.25,301.20L190.25,301.82L191.25,302.41L192.25,302.95L193.26,303.46L194.26,303.94L195.26,304.39L196.26,304.82L197.27,305.23L198.27,305.61L199.27,305.99L200.27,306.35L201.28,306.70L202.28,307.04L203.28,307.39L204.28,307.73L205.29,308.08L206.29,308.43L207.29,308.79L208.29,309.17L209.30,309.56L210.30,309.97" stroke="#0000ff" stroke-width="2.35" fill="none" stroke-linejoin="round" stroke-linecap="round"/>
<path d="M53.50,283.71L54.51,282.59L55.51,281.38L56.52,280.07L57.52,278.69L58.53,277.23L59.53,275.70L60.54,274.11L61.54,272.47L62.55,270.79L63.55,269.06L64.56,267.30L65.56,265.51L66.57,263.71L67.57,261.90L68.58,260.08L69.58,258.26L70.59,256.45L71.59,254.66L72.60,252.89L73.60,251.15L74.61,249.44L75.61,247.76L76.62,246.12L77.62,244.52L78.63,242.97L79.63,241.46L80.64,240.01L81.64,238.61L82.65,237.28L83.65,236.00L84.66,234.80L85.66,233.67L86.67,232.61L87.67,231.63L88.68,230.74L89.68,229.93L90.69,229.21L91.69,228.58L92.70,228.04L93.71,227.57L94.71,227.18L95.72,226.87L96.72,226.64L97.73,226.48L98.73,226.39L99.74,226.36L100.74,226.40L101.75,226.51L102.75,226.67L103.76,226.89L104.76,227.17L105.77,227.50L106.77,227.89L107.78,228.32L108.78,228.80L109.79,229.32L110.79,229.88L111.80,230.48L112.80,231.12L113.81,231.80L114.81,232.50L115.82,233.24L116.82,234.00L117.83,234.79L118.83,235.60L119.84,236.43L120.84,237.28L121.85,238.14L122.85,239.02L123.86,239.91L124.86,240.81L125.87,241.71L126.87,242.62L127.88,243.52L128.88,244.43L129.89,245.34L130.89,246.24L131.90,247.14L132.91,248.05L133.91,248.95L134.92,249.85L135.92,250.74L136.93,251.64L137.93,252.54L138.94,253.43L139.94,254.32L140.95,255.22L141.95,256.11L142.96,257.00L143.96,257.89L144.97,258.78L145.97,259.67L146.98,260.55L147.98,261.44L148.99,262.32L149.99,263.21L151.00,264.09L152.00,264.98L153.01,265.86L154.01,266.74L155.02,267.62L156.02,268.50L157.03,269.38L158.03,270.26L159.04,271.14L160.04,272.02L161.05,272.89L162.05,273.77L163.06,274.65L164.06,275.52L165.07,276.40L166.07,277.27L167.08,278.15L168.08,279.02L169.09,279.90L170.09,280.77L171.10,281.65L172.11,282.52L173.11,283.39L174.12,284.26L175.12,285.12L176.13,285.98L177.13,286.83L178.14,287.67L179.14,288.51L180.15,289.34L181.15,290.16L182.16,290.96L183.16,291.76L184.17,292.54L185.17,293.31L186.18,294.07L187.18,294.81L188.19,295.53L189.19,296.23L190.20,296.92L191.20,297.59L192.21,298.24L193.21,298.86L194.22,299.47L195.22,300.05L196.23,300.60L197.23,301.13L198.24,301.64L199.24,302.12L200.25,302.57L201.25,302.99L202.26,303.38L203.26,303.74L204.27,304.07L205.27,304.37L206.28,304.63L207.28,304.86L208.29,305.05L209.29,305.21L210.30,305.33" stroke="#00f800" stroke-width="2.35" fill="none" stroke-linejoin="round" stroke-linecap="round"/>
<path d="M53.50,289.24L54.51,288.81L55.51,288.36L56.52,287.89L57.52,287.38L58.53,286.85L59.53,286.30L60.54,285.71L61.54,285.10L62.55,284.46L63.55,283.80L64.56,283.10L65.56,282.38L66.57,281.62L67.57,280.84L68.58,280.03L69.58,279.18L70.59,278.30L71.59,277.40L72.60,276.46L73.60,275.49L74.61,274.48L75.61,273.45L76.62,272.38L77.62,271.29L78.63,270.19L79.63,269.06L80.64,267.93L81.64,266.78L82.65,265.64L83.65,264.50L84.66,263.37L85.66,262.24L86.67,261.14L87.67,260.05L88.68,258.99L89.68,257.96L90.69,256.96L91.69,256.00L92.70,255.08L93.71,254.22L94.71,253.40L95.72,252.63L96.72,251.91L97.73,251.23L98.73,250.61L99.74,250.03L100.74,249.49L101.75,249.00L102.75,248.55L103.76,248.15L104.76,247.79L105.77,247.46L106.77,247.18L107.78,246.93L108.78,246.73L109.79,246.56L110.79,246.43L111.80,246.33L112.80,246.27L113.81,246.24L114.81,246.24L115.82,246.27L116.82,246.34L117.83,246.44L118.83,246.56L119.84,246.72L120.84,246.90L121.85,247.11L122.85,247.34L123.86,247.60L124.86,247.88L125.87,248.19L126.87,248.52L127.88,248.87L128.88,249.24L129.89,249.63L130.89,250.03L131.90,250.46L132.91,250.90L133.91,251.36L134.92,251.84L135.92,252.32L136.93,252.83L137.93,253.34L138.94,253.87L139.94,254.42L140.95,254.97L141.95,255.54L142.96,256.12L143.96,256.71L144.97,257.32L145.97,257.93L146.98,258.56L147.98,259.20L148.99,259.84L149.99,260.50L151.00,261.17L152.00,261.85L153.01,262.54L154.01,263.23L155.02,263.94L156.02,264.65L157.03,265.37L158.03,266.10L159.04,266.84L160.04,267.58L161.05,268.33L162.05,269.09L163.06,269.86L164.06,270.63L165.07,271.40L166.07,272.18L167.08,272.97L168.08,273.76L169.09,274.56L170.09,275.36L171.10,276.17L172.11,276.98L173.11,277.79L174.12,278.61L175.12,279.43L176.13,280.25L177.13,281.07L178.14,281.89L179.14,282.71L180.15,283.53L181.15,284.34L182.16,285.15L183.16,285.95L184.17,286.74L185.17,287.51L186.18,288.28L187.18,289.03L188.19,289.77L189.19,290.49L190.20,291.19L191.20,291.88L192.21,292.54L193.21,293.18L194.22,293.80L195.22,294.39L196.23,294.95L197.23,295.49L198.24,295.99L199.24,296.47L200.25,296.91L201.25,297.32L202.26,297.69L203.26,298.02L204.27,298.32L205.27,298.58L206.28,298.79L207.28,298.96L208.29,299.09L209.29,299.17L210.30,299.21" stroke="#ff0000" stroke-width="2.35" fill="none" stroke-linejoin="round" stroke-linecap="round"/>
<path d="M53.50,302.75L54.51,302.36L55.51,301.94L56.52,301.50L57.52,301.02L58.53,300.52L59.53,299.98L60.54,299.42L61.54,298.82L62.55,298.19L63.55,297.54L64.56,296.84L65.56,296.12L66.57,295.36L67.57,294.56L68.58,293.73L69.58,292.87L70.59,291.97L71.59,291.03L72.60,290.05L73.60,289.04L74.61,287.99L75.61,286.89L76.62,285.77L77.62,284.62L78.63,283.44L79.63,282.26L80.64,281.06L81.64,279.86L82.65,278.67L83.65,277.49L84.66,276.33L85.66,275.19L86.67,274.08L87.67,272.99L88.68,271.94L89.68,270.92L90.69,269.93L91.69,268.99L92.70,268.08L93.71,267.22L94.71,266.41L95.72,265.64L96.72,264.91L97.73,264.24L98.73,263.60L99.74,263.01L100.74,262.47L101.75,261.96L102.75,261.50L103.76,261.08L104.76,260.69L105.77,260.35L106.77,260.04L107.78,259.77L108.78,259.54L109.79,259.34L110.79,259.17L111.80,259.04L112.80,258.94L113.81,258.87L114.81,258.83L115.82,258.83L116.82,258.85L117.83,258.90L118.83,258.97L119.84,259.08L120.84,259.21L121.85,259.36L122.85,259.54L123.86,259.74L124.86,259.96L125.87,260.20L126.87,260.46L127.88,260.75L128.88,261.05L129.89,261.37L130.89,261.70L131.90,262.05L132.91,262.42L133.91,262.80L134.92,263.20L135.92,263.60L136.93,264.02L137.93,264.45L138.94,264.90L139.94,265.35L140.95,265.82L141.95,266.30L142.96,266.79L143.96,267.29L144.97,267.80L145.97,268.32L146.98,268.86L147.98,269.40L148.99,269.96L149.99,270.52L151.00,271.10L152.00,271.68L153.01,272.28L154.01,272.88L155.02,273.50L156.02,274.12L157.03,274.75L158.03,275.40L159.04,276.05L160.04,276.71L161.05,277.38L162.05,278.05L163.06,278.74L164.06,279.43L165.07,280.14L166.07,280.85L167.08,281.56L168.08,282.29L169.09,283.02L170.09,283.76L171.10,284.51L172.11,285.27L173.11,286.03L174.12,286.80L175.12,287.57L176.13,288.35L177.13,289.14L178.14,289.93L179.14,290.72L180.15,291.51L181.15,292.30L182.16,293.08L183.16,293.86L184.17,294.64L185.17,295.41L186.18,296.17L187.18,296.91L188.19,297.65L189.19,298.37L190.20,299.08L191.20,299.77L192.21,300.44L193.21,301.09L194.22,301.72L195.22,302.32L196.23,302.90L197.23,303.46L198.24,303.99L199.24,304.48L200.25,304.95L201.25,305.38L202.26,305.78L203.26,306.15L204.27,306.48L205.27,306.77L206.28,307.01L207.28,307.22L208.29,307.39L209.29,307.50L210.30,307.58" stroke="#000" stroke-width="2.35" fill="none" stroke-linejoin="round" stroke-linecap="round"/>
<path d="M186.5,201.2 H199.8" stroke="#000" stroke-width="1.8"/><circle cx="193.2" cy="201.2" r="1.05" fill="#000"/>
<text x="205.5" y="204.5" class="lg2">F-actin</text>
<path d="M186.5,217.2 H199.8" stroke="#ff0000" stroke-width="1.8"/><circle cx="193.2" cy="217.2" r="1.05" fill="#ff0000"/>
<text x="205.5" y="220.5" class="lg2">F-actin + 10.7 µM Histatin-3</text>
<path d="M186.5,233.5 H199.8" stroke="#00f800" stroke-width="1.8"/><circle cx="193.2" cy="233.5" r="1.05" fill="#00f800"/>
<text x="205.5" y="236.8" class="lg2">F-actin +10.7µM Histatin-3</text>
<text x="205.5" y="246.4" class="lg2">+ 5 µM Cofilin (Histatin first)</text>
<path d="M186.5,259.1 H199.8" stroke="#0000ff" stroke-width="1.8"/><circle cx="193.2" cy="259.1" r="1.05" fill="#0000ff"/>
<text x="205.5" y="262.4" class="lg2">F-actin+ 5 µM Cofilin</text>
<path d="M186.5,273.0 H199.8" stroke="#ffff00" stroke-width="1.8"/><circle cx="193.2" cy="273.0" r="1.05" fill="#ffff00"/>
<text x="205.5" y="276.3" class="lg2">F-actin+ 5µM Cofilin</text>
<text x="205.5" y="285.9" class="lg2">+10.7 µM Histatin-3 (Cofilin first)</text>
<path d="M398.7,214.9 V327.1" class="ax"/>
<path d="M397.7,326.1 H563.4" class="ax"/>
<path d="M393.9,326.1 H398.7" class="ax"/>
<path d="M393.9,298.6 H398.7" class="ax"/>
<path d="M393.9,271.0 H398.7" class="ax"/>
<path d="M393.9,243.5 H398.7" class="ax"/>
<path d="M393.9,215.9 H398.7" class="ax"/>
<path d="M406.9,326.1 V330.1" class="ax"/>
<path d="M448.2,326.1 V330.1" class="ax"/>
<path d="M489.4,326.1 V330.1" class="ax"/>
<path d="M530.7,326.1 V330.1" class="ax"/>
<text x="393.8" y="329.4" text-anchor="end" class="tk">0</text>
<text x="390.5" y="301.7" class="tk" text-anchor="end">1×10</text><text x="391.2" y="298.7" class="tk sup">5</text>
<text x="390.5" y="274.1" class="tk" text-anchor="end">2×10</text><text x="391.2" y="271.1" class="tk sup">5</text>
<text x="390.5" y="246.6" class="tk" text-anchor="end">3×10</text><text x="391.2" y="243.6" class="tk sup">5</text>
<text x="390.5" y="219.0" class="tk" text-anchor="end">4×10</text><text x="391.2" y="216.0" class="tk sup">5</text>
<text x="406.9" y="338.2" class="xt">450</text>
<text x="448.2" y="338.2" class="xt">500</text>
<text x="489.4" y="338.2" class="xt">550</text>
<text x="530.7" y="338.2" class="xt">600</text>
<text x="481.1" y="351.9" class="ti">Wavelength (nm)</text>
<text transform="translate(361.0,271.0) rotate(-90)" class="ti">Fluorescence&#160; (A.U.)</text>
<text x="351.3" y="196.4" class="pl">d</text>
<path d="M406.90,289.55L407.90,288.49L408.90,287.37L409.90,286.20L410.91,284.97L411.91,283.71L412.91,282.40L413.91,281.06L414.91,279.69L415.91,278.29L416.91,276.87L417.91,275.44L418.92,273.99L419.92,272.54L420.92,271.09L421.92,269.64L422.92,268.20L423.92,266.77L424.92,265.36L425.92,263.97L426.93,262.61L427.93,261.28L428.93,259.99L429.93,258.73L430.93,257.52L431.93,256.35L432.93,255.22L433.93,254.15L434.94,253.13L435.94,252.17L436.94,251.27L437.94,250.42L438.94,249.64L439.94,248.93L440.94,248.27L441.94,247.68L442.95,247.15L443.95,246.69L444.95,246.28L445.95,245.94L446.95,245.65L447.95,245.43L448.95,245.27L449.96,245.16L450.96,245.11L451.96,245.11L452.96,245.17L453.96,245.28L454.96,245.43L455.96,245.64L456.96,245.89L457.97,246.18L458.97,246.51L459.97,246.89L460.97,247.30L461.97,247.75L462.97,248.23L463.97,248.75L464.97,249.29L465.98,249.87L466.98,250.47L467.98,251.10L468.98,251.76L469.98,252.43L470.98,253.13L471.98,253.84L472.98,254.57L473.99,255.32L474.99,256.08L475.99,256.85L476.99,257.63L477.99,258.42L478.99,259.22L479.99,260.02L480.99,260.82L482.00,261.62L483.00,262.43L484.00,263.23L485.00,264.02L486.00,264.81L487.00,265.60L488.00,266.37L489.01,267.15L490.01,267.92L491.01,268.68L492.01,269.44L493.01,270.19L494.01,270.94L495.01,271.68L496.01,272.42L497.02,273.16L498.02,273.89L499.02,274.61L500.02,275.34L501.02,276.05L502.02,276.77L503.02,277.48L504.02,278.19L505.03,278.89L506.03,279.59L507.03,280.29L508.03,280.99L509.03,281.68L510.03,282.37L511.03,283.05L512.03,283.74L513.04,284.42L514.04,285.10L515.04,285.77L516.04,286.45L517.04,287.12L518.04,287.79L519.04,288.46L520.04,289.13L521.05,289.79L522.05,290.46L523.05,291.12L524.05,291.78L525.05,292.45L526.05,293.11L527.05,293.76L528.06,294.42L529.06,295.06L530.06,295.71L531.06,296.34L532.06,296.97L533.06,297.58L534.06,298.19L535.06,298.78L536.07,299.36L537.07,299.93L538.07,300.48L539.07,301.01L540.07,301.53L541.07,302.03L542.07,302.51L543.07,302.96L544.08,303.40L545.08,303.81L546.08,304.19L547.08,304.55L548.08,304.89L549.08,305.19L550.08,305.47L551.08,305.72L552.09,305.93L553.09,306.11L554.09,306.26L555.09,306.37L556.09,306.45L557.09,306.49L558.09,306.49L559.09,306.45L560.10,306.37L561.10,306.25L562.10,306.09L563.10,305.88" stroke="#00f800" stroke-width="2.35" fill="none" stroke-linejoin="round" stroke-linecap="round"/>
<path d="M406.50,300.06L407.50,299.89L408.51,299.66L409.51,299.37L410.52,299.04L411.52,298.67L412.52,298.25L413.53,297.79L414.53,297.28L415.53,296.74L416.54,296.17L417.54,295.56L418.55,294.92L419.55,294.25L420.55,293.56L421.56,292.84L422.56,292.10L423.57,291.34L424.57,290.56L425.57,289.77L426.58,288.96L427.58,288.14L428.58,287.32L429.59,286.49L430.59,285.65L431.60,284.81L432.60,283.97L433.60,283.14L434.61,282.31L435.61,281.49L436.62,280.67L437.62,279.87L438.62,279.08L439.63,278.31L440.63,277.55L441.63,276.82L442.64,276.11L443.64,275.42L444.65,274.76L445.65,274.13L446.65,273.53L447.66,272.96L448.66,272.43L449.67,271.94L450.67,271.47L451.67,271.05L452.68,270.65L453.68,270.29L454.68,269.96L455.69,269.65L456.69,269.38L457.70,269.14L458.70,268.93L459.70,268.75L460.71,268.59L461.71,268.47L462.72,268.36L463.72,268.29L464.72,268.24L465.73,268.22L466.73,268.22L467.73,268.24L468.74,268.28L469.74,268.35L470.75,268.44L471.75,268.56L472.75,268.69L473.76,268.84L474.76,269.01L475.77,269.20L476.77,269.41L477.77,269.64L478.78,269.88L479.78,270.14L480.78,270.42L481.79,270.71L482.79,271.01L483.80,271.33L484.80,271.66L485.80,272.01L486.81,272.37L487.81,272.74L488.82,273.12L489.82,273.51L490.82,273.91L491.83,274.33L492.83,274.75L493.83,275.19L494.84,275.63L495.84,276.09L496.85,276.55L497.85,277.02L498.85,277.51L499.86,278.00L500.86,278.49L501.87,279.00L502.87,279.51L503.87,280.03L504.88,280.56L505.88,281.09L506.88,281.63L507.89,282.17L508.89,282.72L509.90,283.28L510.90,283.84L511.90,284.40L512.91,284.97L513.91,285.54L514.92,286.12L515.92,286.70L516.92,287.28L517.93,287.87L518.93,288.45L519.93,289.04L520.94,289.63L521.94,290.22L522.95,290.82L523.95,291.41L524.95,292.00L525.96,292.60L526.96,293.19L527.97,293.78L528.97,294.37L529.97,294.95L530.98,295.52L531.98,296.09L532.98,296.66L533.99,297.21L534.99,297.76L536.00,298.29L537.00,298.81L538.00,299.33L539.01,299.82L540.01,300.31L541.02,300.77L542.02,301.22L543.02,301.66L544.03,302.07L545.03,302.47L546.03,302.84L547.04,303.20L548.04,303.53L549.05,303.83L550.05,304.12L551.05,304.37L552.06,304.60L553.06,304.81L554.07,304.98L555.07,305.13L556.07,305.24L557.08,305.32L558.08,305.37L559.08,305.39L560.09,305.37L561.09,305.32L562.10,305.23L563.10,305.10" stroke="#ff0000" stroke-width="2.35" fill="none" stroke-linejoin="round" stroke-linecap="round"/>
<path d="M406.50,289.59L407.50,288.25L408.51,286.85L409.51,285.41L410.52,283.93L411.52,282.42L412.52,280.87L413.53,279.30L414.53,277.70L415.53,276.09L416.54,274.47L417.54,272.84L418.55,271.20L419.55,269.57L420.55,267.95L421.56,266.34L422.56,264.74L423.57,263.17L424.57,261.62L425.57,260.10L426.58,258.61L427.58,257.15L428.58,255.73L429.59,254.36L430.59,253.02L431.60,251.73L432.60,250.49L433.60,249.30L434.61,248.17L435.61,247.09L436.62,246.08L437.62,245.13L438.62,244.25L439.63,243.44L440.63,242.71L441.63,242.05L442.64,241.47L443.64,240.97L444.65,240.55L445.65,240.21L446.65,239.94L447.66,239.74L448.66,239.62L449.67,239.56L450.67,239.57L451.67,239.64L452.68,239.77L453.68,239.96L454.68,240.20L455.69,240.50L456.69,240.85L457.70,241.25L458.70,241.69L459.70,242.18L460.71,242.71L461.71,243.28L462.72,243.89L463.72,244.53L464.72,245.20L465.73,245.91L466.73,246.64L467.73,247.40L468.74,248.18L469.74,248.98L470.75,249.81L471.75,250.64L472.75,251.49L473.76,252.36L474.76,253.23L475.77,254.11L476.77,254.99L477.77,255.87L478.78,256.76L479.78,257.64L480.78,258.52L481.79,259.39L482.79,260.26L483.80,261.13L484.80,261.99L485.80,262.84L486.81,263.69L487.81,264.54L488.82,265.38L489.82,266.21L490.82,267.04L491.83,267.87L492.83,268.69L493.83,269.51L494.84,270.32L495.84,271.13L496.85,271.94L497.85,272.73L498.85,273.53L499.86,274.32L500.86,275.10L501.87,275.88L502.87,276.66L503.87,277.43L504.88,278.20L505.88,278.96L506.88,279.71L507.89,280.47L508.89,281.21L509.90,281.96L510.90,282.69L511.90,283.43L512.91,284.16L513.91,284.88L514.92,285.60L515.92,286.32L516.92,287.03L517.93,287.73L518.93,288.43L519.93,289.13L520.94,289.82L521.94,290.51L522.95,291.19L523.95,291.87L524.95,292.54L525.96,293.21L526.96,293.87L527.97,294.52L528.97,295.17L529.97,295.81L530.98,296.44L531.98,297.05L532.98,297.66L533.99,298.26L534.99,298.84L536.00,299.40L537.00,299.95L538.00,300.49L539.01,301.01L540.01,301.51L541.02,301.99L542.02,302.45L543.02,302.90L544.03,303.32L545.03,303.71L546.03,304.09L547.04,304.44L548.04,304.76L549.05,305.06L550.05,305.33L551.05,305.58L552.06,305.79L553.06,305.98L554.07,306.13L555.07,306.26L556.07,306.35L557.08,306.41L558.08,306.43L559.08,306.42L560.09,306.37L561.09,306.29L562.10,306.16L563.10,306.00" stroke="#ffff00" stroke-width="2.35" fill="none" stroke-linejoin="round" stroke-linecap="round"/>
<path d="M406.50,304.79L407.50,303.66L408.50,302.48L409.50,301.27L410.50,300.03L411.50,298.75L412.50,297.45L413.50,296.12L414.50,294.78L415.50,293.41L416.50,292.03L417.50,290.64L418.50,289.24L419.50,287.83L420.50,286.43L421.50,285.02L422.50,283.62L423.50,282.23L424.50,280.85L425.50,279.48L426.50,278.13L427.50,276.80L428.50,275.50L429.50,274.22L430.50,272.97L431.50,271.75L432.50,270.57L433.50,269.43L434.50,268.33L435.50,267.28L436.50,266.28L437.50,265.33L438.50,264.43L439.50,263.59L440.50,262.81L441.50,262.10L442.50,261.46L443.50,260.88L444.50,260.38L445.50,259.94L446.50,259.57L447.50,259.25L448.50,259.00L449.50,258.81L450.50,258.68L451.50,258.60L452.50,258.58L453.50,258.61L454.50,258.69L455.50,258.81L456.50,258.98L457.50,259.20L458.50,259.46L459.50,259.76L460.50,260.10L461.50,260.48L462.50,260.89L463.50,261.34L464.50,261.82L465.50,262.33L466.50,262.86L467.50,263.43L468.50,264.01L469.50,264.62L470.50,265.25L471.50,265.90L472.50,266.56L473.50,267.24L474.50,267.94L475.50,268.64L476.50,269.36L477.50,270.08L478.50,270.81L479.50,271.54L480.50,272.28L481.50,273.01L482.50,273.74L483.50,274.47L484.50,275.20L485.50,275.92L486.50,276.63L487.50,277.33L488.50,278.02L489.50,278.69L490.50,279.36L491.50,280.01L492.50,280.65L493.50,281.27L494.50,281.88L495.50,282.47L496.50,283.04L497.50,283.59L498.50,284.12L499.50,284.63L500.50,285.11L501.50,285.58L502.50,286.04L503.50,286.51L504.50,287.00L505.50,287.51L506.50,288.07L507.50,288.68L508.50,289.36L509.50,290.10L510.50,290.89L511.50,291.71L512.50,292.56L513.50,293.41L514.50,294.26L515.50,295.09L516.50,295.90L517.50,296.68L518.50,297.43L519.50,298.17L520.50,298.88L521.50,299.57L522.50,300.25L523.50,300.91L524.50,301.55L525.50,302.17L526.50,302.79L527.50,303.38L528.50,303.97L529.50,304.54L530.50,305.09L531.50,305.63L532.50,306.16L533.50,306.68L534.50,307.18L535.50,307.68L536.50,308.16L537.50,308.62L538.50,309.08L539.50,309.53L540.50,309.96L541.50,310.39L542.50,310.80L543.50,311.21L544.50,311.60L545.50,311.99L546.50,312.36L547.50,312.73L548.50,313.09L549.50,313.44L550.50,313.78L551.50,314.12L552.50,314.45L553.50,314.77L554.50,315.08L555.50,315.39L556.50,315.69L557.50,315.99L558.50,316.28L559.50,316.56L560.50,316.84L561.50,317.11L562.50,317.38L563.50,317.65" stroke="#0000ff" stroke-width="2.35" fill="none" stroke-linejoin="round" stroke-linecap="round"/>
<path d="M406.50,314.25L407.50,313.89L408.50,313.49L409.50,313.06L410.50,312.59L411.50,312.09L412.50,311.57L413.50,311.01L414.50,310.43L415.50,309.82L416.50,309.19L417.50,308.54L418.50,307.87L419.50,307.18L420.50,306.47L421.50,305.75L422.50,305.01L423.50,304.25L424.50,303.49L425.50,302.72L426.50,301.93L427.50,301.14L428.50,300.35L429.50,299.55L430.50,298.74L431.50,297.94L432.50,297.14L433.50,296.34L434.50,295.54L435.50,294.74L436.50,293.96L437.50,293.18L438.50,292.41L439.50,291.65L440.50,290.90L441.50,290.16L442.50,289.45L443.50,288.74L444.50,288.06L445.50,287.39L446.50,286.75L447.50,286.13L448.50,285.53L449.50,284.96L450.50,284.42L451.50,283.90L452.50,283.42L453.50,282.96L454.50,282.54L455.50,282.14L456.50,281.78L457.50,281.44L458.50,281.13L459.50,280.86L460.50,280.60L461.50,280.38L462.50,280.18L463.50,280.01L464.50,279.86L465.50,279.74L466.50,279.64L467.50,279.57L468.50,279.52L469.50,279.49L470.50,279.49L471.50,279.50L472.50,279.54L473.50,279.60L474.50,279.68L475.50,279.78L476.50,279.90L477.50,280.04L478.50,280.19L479.50,280.37L480.50,280.56L481.50,280.77L482.50,280.99L483.50,281.23L484.50,281.48L485.50,281.75L486.50,282.04L487.50,282.34L488.50,282.65L489.50,282.97L490.50,283.30L491.50,283.65L492.50,284.01L493.50,284.38L494.50,284.76L495.50,285.15L496.50,285.55L497.50,285.96L498.50,286.38L499.50,286.81L500.50,287.25L501.50,287.69L502.50,288.14L503.50,288.60L504.50,289.07L505.50,289.55L506.50,290.03L507.50,290.51L508.50,291.00L509.50,291.50L510.50,292.00L511.50,292.51L512.50,293.02L513.50,293.53L514.50,294.05L515.50,294.57L516.50,295.10L517.50,295.62L518.50,296.15L519.50,296.68L520.50,297.21L521.50,297.74L522.50,298.27L523.50,298.81L524.50,299.34L525.50,299.87L526.50,300.40L527.50,300.93L528.50,301.46L529.50,301.98L530.50,302.51L531.50,303.03L532.50,303.54L533.50,304.06L534.50,304.57L535.50,305.07L536.50,305.57L537.50,306.07L538.50,306.56L539.50,307.05L540.50,307.53L541.50,308.00L542.50,308.46L543.50,308.92L544.50,309.37L545.50,309.82L546.50,310.25L547.50,310.68L548.50,311.10L549.50,311.51L550.50,311.91L551.50,312.29L552.50,312.67L553.50,313.04L554.50,313.40L555.50,313.74L556.50,314.08L557.50,314.40L558.50,314.71L559.50,315.00L560.50,315.28L561.50,315.55L562.50,315.81L563.50,316.05" stroke="#000" stroke-width="2.35" fill="none" stroke-linejoin="round" stroke-linecap="round"/>
<path d="M551.7,223.4 H565.0" stroke="#000" stroke-width="1.8"/><circle cx="558.4" cy="223.4" r="1.05" fill="#000"/>
<text x="571.0" y="226.7" class="lg2">F-actin only</text>
<path d="M551.7,238.1 H565.0" stroke="#0000ff" stroke-width="1.8"/><circle cx="558.4" cy="238.1" r="1.05" fill="#0000ff"/>
<text x="571.0" y="241.4" class="lg2">F-actin+5 µM Cofilin</text>
<path d="M551.7,248.9 H565.0" stroke="#ffff00" stroke-width="1.8"/><circle cx="558.4" cy="248.9" r="1.05" fill="#ffff00"/>
<text x="571.0" y="252.2" class="lg2">F-actin+5 µM Cofilin</text>
<text x="571.0" y="261.8" class="lg2">+10.7µM Histatin-5 (Cofilin first)</text>
<path d="M551.7,269.6 H565.0" stroke="#ff0000" stroke-width="1.8"/><circle cx="558.4" cy="269.6" r="1.05" fill="#ff0000"/>
<text x="571.0" y="272.9" class="lg2">F-actin+ 10.7 µM Histatin-5</text>
<path d="M551.7,285.1 H565.0" stroke="#00f800" stroke-width="1.8"/><circle cx="558.4" cy="285.1" r="1.05" fill="#00f800"/>
<text x="571.0" y="288.4" class="lg2">F-actin+ 10.7 µM Histatin-5</text>
<text x="571.0" y="298.0" class="lg2">+5 µM Cofilin (Histatin first)</text>
</svg></div></body></html>
